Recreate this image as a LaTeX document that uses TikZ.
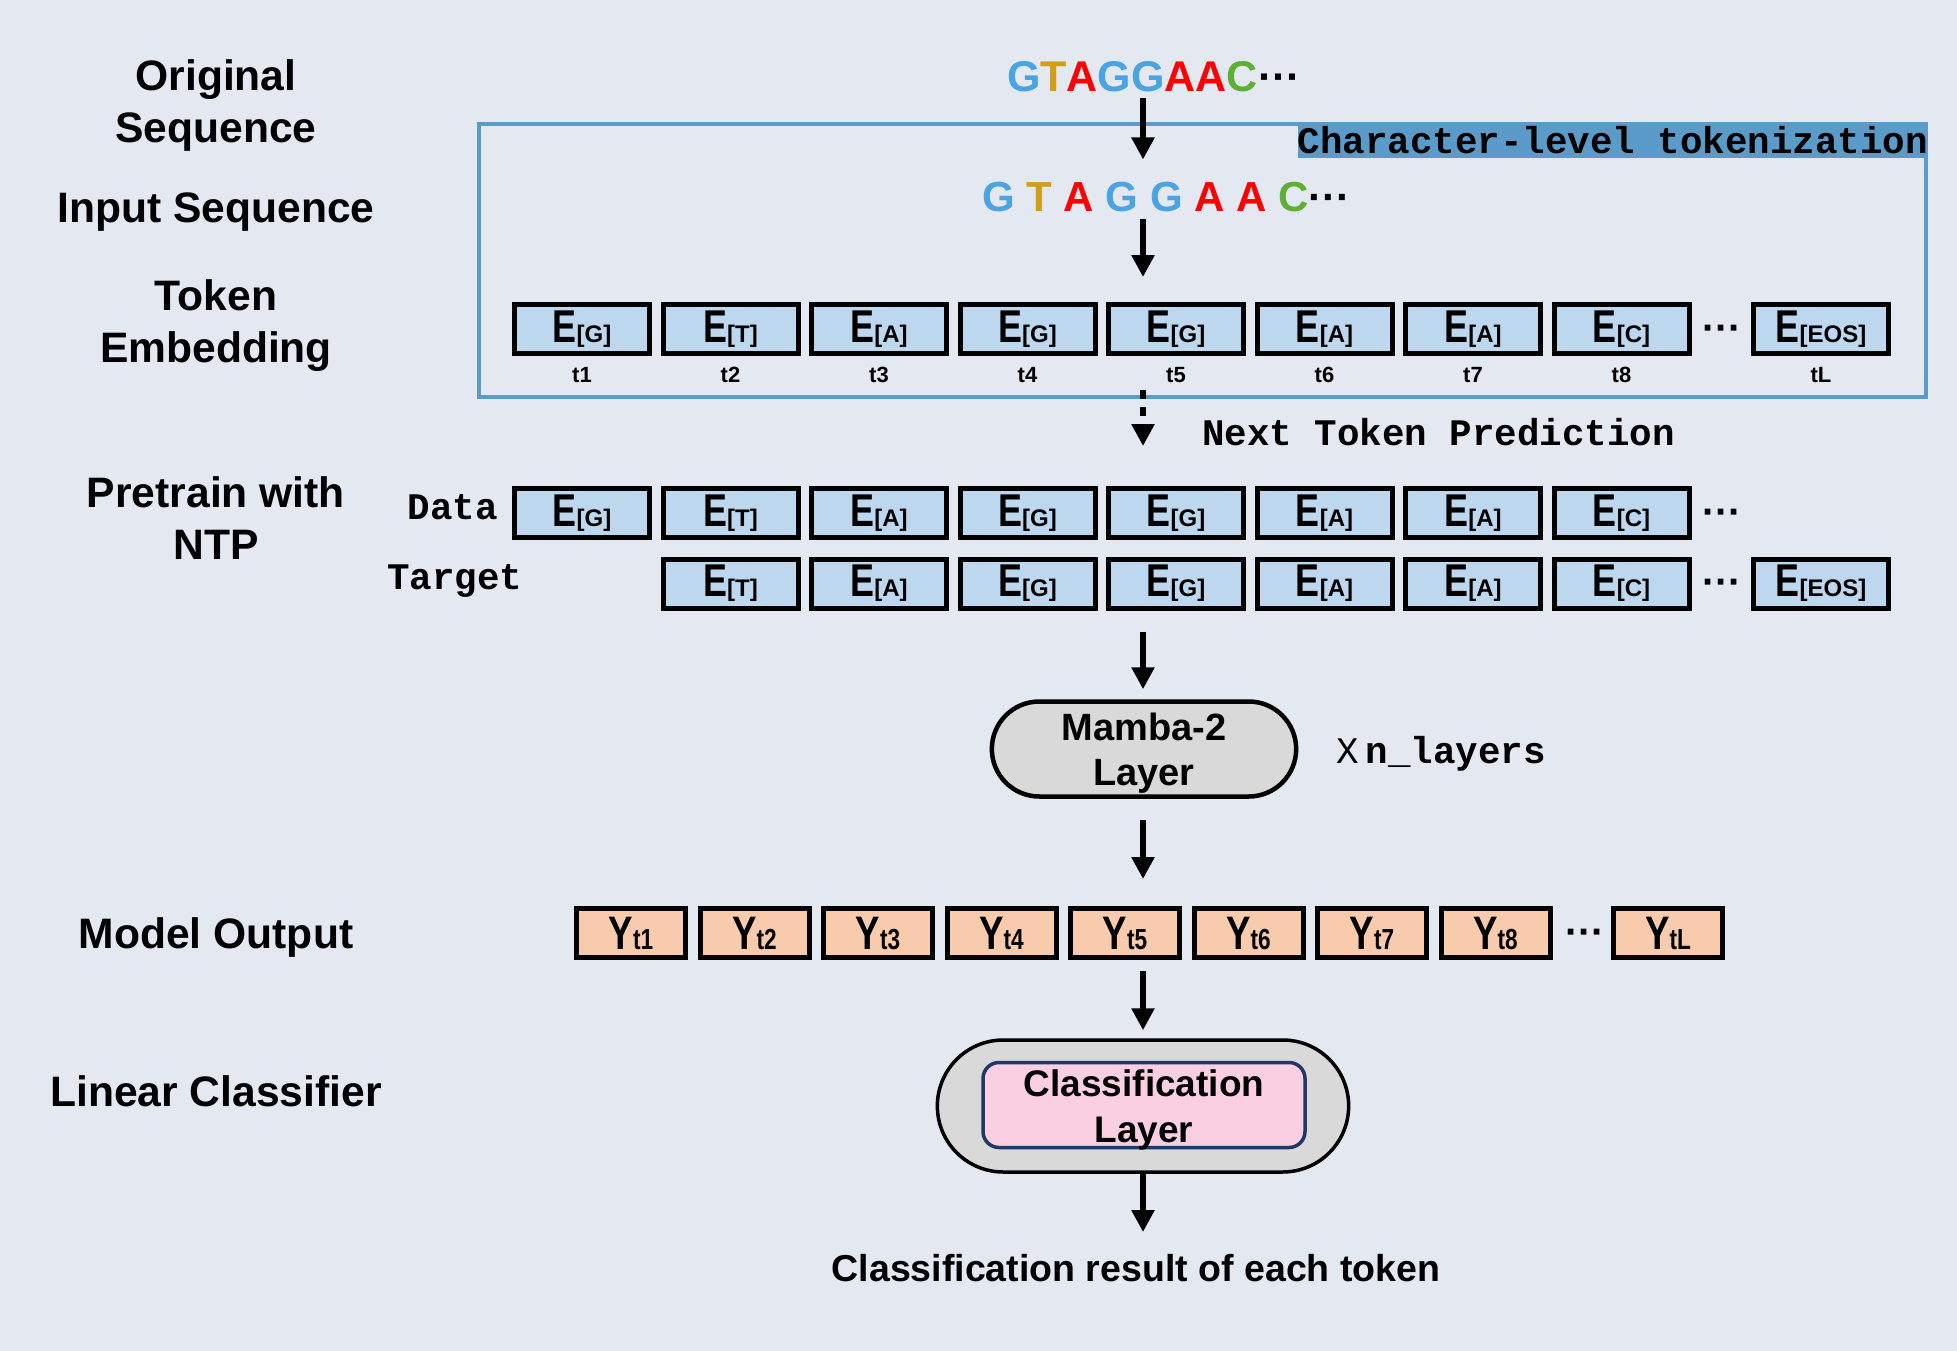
\documentclass[tikz,border=0pt]{standalone}
\usepackage{fontspec}
\setmainfont{Liberation Sans}
\setmonofont{Liberation Mono}
\newfontfamily\tokfont{Liberation Sans}[FakeStretch=0.78]
\usetikzlibrary{arrows.meta,shapes.misc}

\definecolor{bgcol}{HTML}{E3E8F1}
\definecolor{frmcol}{HTML}{5B9BC9}
\definecolor{embfill}{HTML}{BDD7EE}
\definecolor{outfill}{HTML}{F8CBAD}
\definecolor{layfill}{HTML}{D9D9D9}
\definecolor{clsfill}{HTML}{FBCFE2}
\definecolor{clsline}{HTML}{1F3864}
\definecolor{ntG}{HTML}{4AA3E2}
\definecolor{ntT}{HTML}{D29E17}
\definecolor{ntA}{HTML}{FF0000}
\definecolor{ntC}{HTML}{5DB033}

\newcommand{\setfs}[2]{\fontsize{#1}{#2}\selectfont}
\newcommand{\embtxt}[1]{{\tokfont\setfs{46}{46}E}{\setfs{24}{24}[#1]}}
\newcommand{\outtxt}[1]{{\tokfont\setfs{47}{47}Y\setfs{29}{29}t#1}}
\newcommand{\seqG}{\textcolor{ntG}{G}}
\newcommand{\seqT}{\textcolor{ntT}{T}}
\newcommand{\seqA}{\textcolor{ntA}{A}}
\newcommand{\seqC}{\textcolor{ntC}{C}}

\tikzset{
  embbox/.style={draw=black, line width=5pt, fill=embfill, minimum width=135pt,
    minimum height=49pt, inner sep=0pt, font=\bfseries},
  outbox/.style={draw=black, line width=5pt, fill=outfill, minimum width=109pt,
    minimum height=49pt, inner sep=0pt, font=\bfseries},
  sidelbl/.style={align=center, inner sep=0pt, font={\bfseries\setfs{42.6}{52}}},
  seqtxt/.style={inner sep=0pt, font={\bfseries\setfs{43}{43}}},
  monolbl/.style={inner sep=0pt, font={\ttfamily\bfseries\setfs{37.5}{38}}},
  tlbl/.style={inner sep=0pt, font={\bfseries\setfs{22}{22}}},
  gapdots/.style={inner sep=0pt, anchor=base, font={\bfseries\setfs{40}{40}}},
  flow/.style={line width=6pt, -{Triangle[length=22pt,width=22pt]}},
}

\begin{document}
\begin{tikzpicture}[x=1pt,y=-1pt]
  \fill[bgcol] (0,0) rectangle (1957,1351);
  \useasboundingbox (0,0) rectangle (1957,1351);
  \coordinate (mid) at (1143,0);

  % row titles
  \node[sidelbl] (lorig) at (216,105) {Original\\Sequence};
  \node[sidelbl] (linput) at (216,212) {Input Sequence};
  \node[sidelbl] (lembed) at (216,326) {Token\\Embedding};
  \node[sidelbl] (lntp) at (216,518) {Pretrain with\\NTP};
  \node[sidelbl] (lout) at (216,937) {Model Output};
  \node[sidelbl] (lcls) at (216,1091) {Linear Classifier};

  % sequences
  \node[seqtxt, anchor=base west] (origseq) at (1007,92)
    {\seqG\seqT\seqA\seqG\seqG\seqA\seqA\seqC\textcolor{black}{···}};
  \node[seqtxt, anchor=base west, font={\bfseries\setfs{42}{42}}] (inseq) at (982,212)
    {\seqG{} \seqT{} \seqA{} \seqG{} \seqG{} \seqA{} \seqA{} \seqC\textcolor{black}{···}};

  % tokenization frame
  \node[draw=frmcol, line width=4.5pt, minimum width=1447pt, minimum height=273pt,
    inner sep=0pt] (tokfrm) at (1202.5,260.5) {};
  \node[monolbl, anchor=north east, fill=frmcol, minimum height=36pt] (tokhdr)
    at (tokfrm.north east) {Character-level tokenization};

  % token embedding
  \foreach \tok [count=\i] in {G,T,A,G,G,A,A,C} {
    \node[embbox] (e\i) at ({582+148.5*(\i-1)},329) {\embtxt{\tok}};
    \node[tlbl] (lab\i) at ({582+148.5*(\i-1)},375) {t\i};
  }
  \node[gapdots] (edots) at (1722,341) {···};
  \node[embbox] (eL) at (1821,329) {\embtxt{EOS}};
  \node[tlbl] (labL) at (1821,375) {tL};

  \node[monolbl, anchor=base west] (ntp) at (1202,445) {Next Token Prediction};

  % data / target
  \node[monolbl, anchor=base east] (ldata) at (498,519) {Data};
  \node[monolbl, anchor=base west] (ltarget) at (387,589) {Target};
  \foreach \tok [count=\i] in {G,T,A,G,G,A,A,C}
    \node[embbox] (d\i) at ({582+148.5*(\i-1)},513) {\embtxt{\tok}};
  \node[gapdots] (ddots) at (1722,525) {···};
  \foreach \tok [count=\i from 2] in {T,A,G,G,A,A,C}
    \node[embbox] (g\i) at ({582+148.5*(\i-1)},583.5) {\embtxt{\tok}};
  \node[gapdots] (gdots) at (1722,595.5) {···};
  \node[embbox] (gL) at (1821,583.5) {\embtxt{EOS}};

  % mamba
  \node[rounded rectangle, draw=black, line width=4.5pt, fill=layfill,
    minimum width=311pt, minimum height=95pt] (mamba) at (1144,749) {};
  \node[align=center, inner sep=0pt, font={\bfseries\setfs{38}{45}}] (mambatxt)
    at (1144,753) {Mamba-2\\Layer};
  \node[monolbl, anchor=base west] (nlay) at (1336,763)
    {{\mdseries X}\hspace{7pt}n\_layers};

  % model output
  \foreach \i in {1,...,8}
    \node[outbox] (y\i) at ({631+123.5*(\i-1)},933) {\outtxt{\i}};
  \node[gapdots] (ydots) at (1585,945) {···};
  \node[outbox] (yL) at (1668,933) {\outtxt{L}};

  % classifier
  \node[rounded rectangle, draw=black, line width=3.5pt, fill=layfill,
    minimum width=418pt, minimum height=132pt] (cls) at (1143,1106) {};
  \node[draw=clsline, line width=3.5pt, fill=clsfill, rounded corners=16pt,
    minimum width=322pt, minimum height=85pt] (clslay) at (1144,1105) {};
  \node[align=center, inner sep=0pt, font={\bfseries\setfs{37}{46}}] (clstxt)
    at (1144,1110) {Classification\\Layer};
  \node[inner sep=0pt, font={\bfseries\setfs{37.5}{38}}] (result) at (1136,1268)
    {Classification result of each token};

  % arrows
  \draw[flow, shorten <=5pt, shorten >=23pt] (origseq.south -| mid) -- (inseq.north -| mid);
  \draw[flow, shorten <=6pt, shorten >=25pt] (inseq.south -| mid) -- (e5.north -| mid);
  \draw[flow, dash pattern=on 9pt off 8pt, shorten <=7pt, shorten >=40pt]
    (lab5.south -| mid) -- (d5.north -| mid);
  \draw[flow, shorten <=21pt, shorten >=10pt] (g5.south -| mid) -- (mamba.north -| mid);
  \draw[flow, shorten <=21pt, shorten >=27pt] (mamba.south -| mid) -- (y5.north -| mid);
  \draw[flow, shorten <=11pt, shorten >=8pt] (y5.south -| mid) -- (cls.north -| mid);
  \draw[flow, shorten >=22pt] (cls.south -| mid) -- (result.north -| mid);
\end{tikzpicture}
\end{document}
